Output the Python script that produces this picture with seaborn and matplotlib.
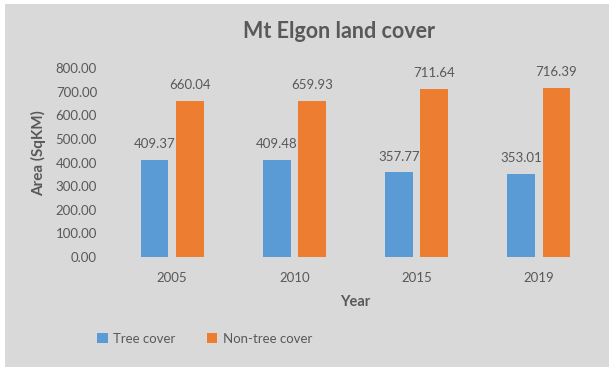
import matplotlib
matplotlib.use("Agg")
import matplotlib.pyplot as plt
from matplotlib.patches import Rectangle
import seaborn as sns
import pandas as pd

years = ["2005", "2010", "2015", "2019"]
tree_cover = [409.37, 409.48, 357.77, 353.01]
non_tree_cover = [660.04, 659.93, 711.64, 716.39]
series_names = ["Tree cover", "Non-tree cover"]
y_ticks = [0, 100, 200, 300, 400, 500, 600, 700, 800]

df = pd.DataFrame({
    "Year": years * 2,
    "Area": tree_cover + non_tree_cover,
    "Cover": [series_names[0]] * len(years) + [series_names[1]] * len(years),
})

sns.set_theme(style="white")
plt.rcParams["font.family"] = ["Lato", "DejaVu Sans"]

TEXT = "#595959"
BG = "#D9D9D9"
W, H = 612, 370

fig = plt.figure(figsize=(W / 100, H / 100), dpi=100, facecolor="white")
fig.patches.append(Rectangle((5 / W, 3 / H), 604 / W, 363 / H,
                             transform=fig.transFigure, facecolor=BG,
                             edgecolor="none", zorder=-10))

ax = fig.add_axes([111 / W, (H - 257) / H, 489 / W, 189 / H])
ax.set_facecolor("none")

sns.barplot(data=df, x="Year", y="Area", hue="Cover", order=years,
            hue_order=series_names, palette=["#5B9BD5", "#ED7D31"],
            width=0.574, gap=0.21, ax=ax, errorbar=None, saturation=1,
            linewidth=0)

for cont in ax.containers:
    for bar in cont:
        h = bar.get_height()
        ax.annotate(f"{h:.2f}", (bar.get_x() + bar.get_width() / 2, h),
                    xytext=(0, 11.5), textcoords="offset points",
                    ha="center", va="center", fontsize=9.5, color=TEXT)

ax.set_ylim(0, 800)
ax.set_yticks(y_ticks)
ax.set_yticklabels([f"{v:.2f}" for v in y_ticks])
ax.tick_params(axis="both", length=0, labelsize=9.5, labelcolor=TEXT)
ax.tick_params(axis="y", pad=10)
ax.tick_params(axis="x", pad=11)
for s in ax.spines.values():
    s.set_visible(False)

ax.set_ylabel("Area (SqKM)", fontsize=11, fontweight="bold", color=TEXT)
ax.yaxis.label.set_va("center")
ax.yaxis.set_label_coords((39 - 111) / 489, (257 - 153) / 189)
ax.set_xlabel("Year", fontsize=10.5, fontweight="bold", color=TEXT)
ax.xaxis.label.set_va("center")
ax.xaxis.set_label_coords((355 - 111) / 489, (257 - 302) / 189)

fig.text(339 / W, (H - 32) / H, "Mt Elgon land cover", ha="center",
         va="center", fontsize=15.5, fontweight="bold", color=TEXT)

handles, labels = ax.get_legend_handles_labels()
ax.legend(handles, labels, loc="center left",
          bbox_to_anchor=(97 / W, (H - 339) / H),
          bbox_transform=fig.transFigure, ncol=2, frameon=False,
          handlelength=0.8, handleheight=0.8, handletextpad=0.4,
          columnspacing=2.4, borderpad=0, borderaxespad=0,
          fontsize=9.5, labelcolor=TEXT)

fig.savefig("out.png", dpi=100, facecolor="white")
